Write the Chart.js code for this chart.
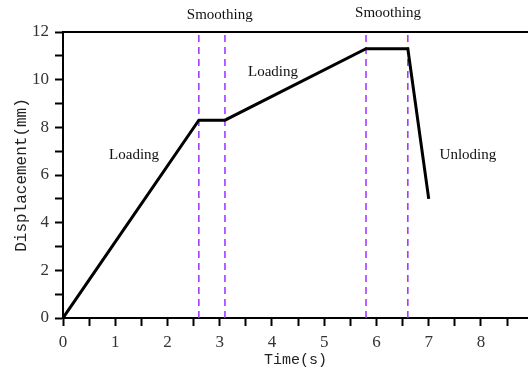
<!DOCTYPE html>
<html>
<head>
<meta charset="utf-8">
<script src="https://cdn.jsdelivr.net/npm/chart.js@4"></script>
<style>
  html, body { margin: 0; padding: 0; background: #fff; }
  #wrap { width: 528px; height: 372px; }
</style>
</head>
<body>
<div id="wrap"><canvas id="graph"></canvas></div>
<script>
// displacement curve, time in s / displacement in mm
const timeValues = [0, 2.6, 3.1, 5.8, 6.6, 7.0];
const dispValues = [0, 8.3, 8.3, 11.3, 11.3, 5.0];

// stage boundaries (s)
const stageLines = [2.6, 3.1, 5.8, 6.6];

// tick values, labelled ones get text
const xTicks = [0, 0.5, 1, 1.5, 2, 2.5, 3, 3.5, 4, 4.5, 5, 5.5, 6, 6.5, 7, 7.5, 8, 8.5];
const yTicks = [0, 1, 2, 3, 4, 5, 6, 7, 8, 9, 10, 11, 12];

// stage names
const stageNames = ["Smoothing", "Smoothing", "Loading", "Loading", "Unloding"];
// where each name sits, in axis units
const stageSpots = [[3.0, 12.7], [6.22, 12.8], [1.36, 6.84], [4.02, 10.32], [7.75, 6.84]];

Chart.defaults.font.family = "'Liberation Serif', 'Times New Roman', serif";
Chart.defaults.color = '#333';

const stageLabels = {
    id: 'stageLabels',
    afterDatasetsDraw(chart) {
        const ctx = chart.ctx;
        const xs = chart.scales.x, ys = chart.scales.y;
        ctx.save();
        ctx.font = "15px 'Liberation Serif'";
        ctx.fillStyle = '#111';
        ctx.textAlign = 'center';
        ctx.textBaseline = 'middle';
        stageNames.forEach((t, i) => {
            ctx.fillText(t, xs.getPixelForValue(stageSpots[i][0]), ys.getPixelForValue(stageSpots[i][1]));
        });
        ctx.restore();
    }
};

const datasets = [{
    data: timeValues.map((t, i) => ({x: t, y: dispValues[i]})),
    borderColor: '#000',
    borderWidth: 3,
    pointRadius: 0,
    tension: 0,
    fill: false
}];
stageLines.forEach(t => {
    datasets.push({
        data: [{x: t, y: 0}, {x: t, y: 12}],
        borderColor: '#9b30ff',
        borderWidth: 1.5,
        borderDash: [7, 5],
        pointRadius: 0,
        fill: false
    });
});

const graph = document.getElementById('graph');
let linegraph = new Chart(graph, {
    type: 'line',
    data: { datasets: datasets },
    plugins: [stageLabels],
    options: {
        responsive: true,
        maintainAspectRatio: false,
        animation: false,
        layout: { padding: 0 },
        plugins: { legend: { display: false }, tooltip: { enabled: false } },
        scales: {
            x: {
                type: 'linear',
                position: 'bottom',
                min: 0,
                max: 8.9,
                afterBuildTicks: s => { s.ticks = xTicks.map(v => ({value: v})); },
                afterFit: s => { s.height = 54; },
                ticks: {
                    autoSkip: false,
                    maxRotation: 0,
                    padding: 6,
                    font: { size: 17 },
                    callback: v => Number.isInteger(v) ? v : ''
                },
                grid: { drawOnChartArea: false, tickLength: 8, tickWidth: 2, tickColor: '#000' },
                border: { color: '#000', width: 2 },
                title: {
                    display: true,
                    text: 'Time(s)',
                    color: '#222',
                    font: { family: "'Liberation Mono'", size: 15 },
                    padding: { top: 0, bottom: 3 }
                }
            },
            x2: {
                type: 'linear',
                position: 'top',
                min: 0,
                max: 8.9,
                afterFit: s => { s.height = 32; },
                ticks: { display: false },
                grid: { display: false },
                border: { color: '#000', width: 2 }
            },
            y: {
                type: 'linear',
                min: 0,
                max: 12,
                afterBuildTicks: s => { s.ticks = yTicks.map(v => ({value: v})); },
                afterFit: s => { s.width = 63; },
                ticks: {
                    autoSkip: false,
                    padding: 6,
                    font: { size: 17 },
                    callback: v => v % 2 === 0 ? v : ''
                },
                grid: { drawOnChartArea: false, tickLength: 8, tickWidth: 2, tickColor: '#000' },
                border: { color: '#000', width: 2 },
                title: {
                    display: true,
                    text: 'Displacement(mm)',
                    color: '#222',
                    font: { family: "'Liberation Mono'", size: 16 },
                    padding: { top: 12, bottom: 0 }
                }
            }
        }
    }
});
</script>
</body>
</html>
